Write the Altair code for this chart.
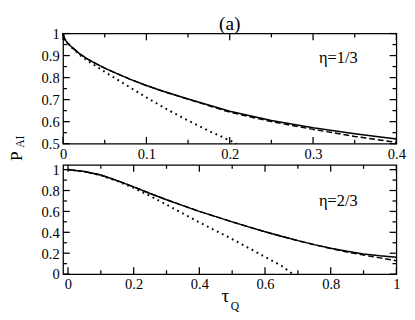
import altair as alt
import pandas as pd

# ---------- data ----------
# top panel, eta = 1/3
top_solid_t = [0, 0.002, 0.005, 0.01, 0.02, 0.03, 0.04, 0.05, 0.06, 0.08, 0.1, 0.12, 0.15, 0.2, 0.25, 0.3, 0.35, 0.4]
top_solid_p = [1.0, 0.975, 0.958, 0.94, 0.908, 0.883, 0.862, 0.843, 0.826, 0.793, 0.764, 0.738, 0.703, 0.647, 0.605, 0.572, 0.545, 0.521]
top_dash_t = [0, 0.002, 0.005, 0.01, 0.02, 0.03, 0.04, 0.05, 0.06, 0.08, 0.1, 0.12, 0.15, 0.2, 0.25, 0.3, 0.35, 0.4]
top_dash_p = [1.0, 0.975, 0.958, 0.94, 0.908, 0.883, 0.862, 0.843, 0.826, 0.793, 0.764, 0.738, 0.702, 0.643, 0.600, 0.565, 0.533, 0.506]
top_dot_t = [0, 0.002, 0.005, 0.01, 0.02, 0.03, 0.05, 0.075, 0.1, 0.125, 0.15, 0.175, 0.2, 0.208]
top_dot_p = [1.0, 0.975, 0.958, 0.938, 0.903, 0.875, 0.826, 0.768, 0.71, 0.655, 0.605, 0.558, 0.515, 0.5]

# bottom panel, eta = 2/3
bot_solid_t = [0, 0.05, 0.1, 0.15, 0.2, 0.25, 0.3, 0.35, 0.4, 0.45, 0.5, 0.55, 0.6, 0.65, 0.7, 0.75, 0.8, 0.85, 0.9, 0.95, 1.0]
bot_solid_p = [1.0, 0.982, 0.948, 0.895, 0.835, 0.772, 0.712, 0.656, 0.6, 0.55, 0.5, 0.452, 0.406, 0.362, 0.32, 0.282, 0.248, 0.218, 0.193, 0.175, 0.162]
bot_dash_t = [0, 0.05, 0.1, 0.15, 0.2, 0.25, 0.3, 0.35, 0.4, 0.45, 0.5, 0.55, 0.6, 0.65, 0.7, 0.75, 0.8, 0.85, 0.9, 0.95, 1.0]
bot_dash_p = [1.0, 0.982, 0.948, 0.895, 0.835, 0.772, 0.712, 0.656, 0.6, 0.55, 0.5, 0.452, 0.406, 0.362, 0.32, 0.281, 0.245, 0.212, 0.182, 0.155, 0.128]
bot_dot_t = [0, 0.05, 0.1, 0.15, 0.2, 0.25, 0.3, 0.35, 0.4, 0.45, 0.5, 0.55, 0.6, 0.65, 0.685]
bot_dot_p = [1.0, 0.982, 0.946, 0.89, 0.825, 0.748, 0.665, 0.58, 0.495, 0.415, 0.335, 0.25, 0.165, 0.08, 0.0]

# tick values
top_x_major = [0, 0.1, 0.2, 0.3, 0.4]
top_x_minor = [0.05, 0.15, 0.25, 0.35]
top_y_major = [0.5, 0.6, 0.7, 0.8, 0.9, 1.0]
top_y_minor = [0.55, 0.65, 0.75, 0.85, 0.95]
bot_x_major = [0, 0.2, 0.4, 0.6, 0.8, 1.0]
bot_x_minor = [0.1, 0.3, 0.5, 0.7, 0.9]
bot_y_major = [0, 0.2, 0.4, 0.6, 0.8, 1.0]
bot_y_minor = [0.1, 0.3, 0.5, 0.7, 0.9]

FONT = "Liberation Serif"
W = 345
H1 = 114
H2 = 113
MAJ = 7
MIN = 4
TICK_W = 1.3


def df(t, p):
    return pd.DataFrame({"t": t, "p": p})


def label_axis(orient, values, pad):
    return alt.Axis(orient=orient, values=values, ticks=False, domain=False,
                    grid=False, title=None, labelFont=FONT, labelFontSize=15,
                    labelColor="black", labelPadding=pad, format="~g",
                    labelFlush=False, labelOverlap=False)


def tick_layer(xmaj, xmin, ymaj, ymin, xdom, ydom, h, xs, ys):
    # every tick is a two-point line segment; length in data units of the perpendicular scale
    ky = (ydom[1] - ydom[0]) / h
    kx = (xdom[1] - xdom[0]) / W
    rows = []
    n = 0
    for vals, ln in ((xmaj, MAJ), (xmin, MIN)):
        for v in vals:
            for a, b in ((ydom[0], ydom[0] + ln * ky), (ydom[1] - ln * ky, ydom[1])):
                rows.append({"id": n, "k": 0, "x": v, "y": a})
                rows.append({"id": n, "k": 1, "x": v, "y": b})
                n += 1
    for vals, ln in ((ymaj, MAJ), (ymin, MIN)):
        for v in vals:
            for a, b in ((xdom[0], xdom[0] + ln * kx), (xdom[1] - ln * kx, xdom[1])):
                rows.append({"id": n, "k": 0, "x": a, "y": v})
                rows.append({"id": n, "k": 1, "x": b, "y": v})
                n += 1
    return alt.Chart(pd.DataFrame(rows)).mark_line(color="black", strokeWidth=TICK_W).encode(
        x=alt.X("x:Q", scale=xs, axis=None),
        y=alt.Y("y:Q", scale=ys, axis=None),
        detail="id:N",
        order="k:Q",
    )


def panel(solid, dash, dot, xdom, ydom, xmaj, xmin, ymaj, ymin, h, texts):
    xs = alt.Scale(domain=xdom, nice=False, zero=False)
    ys = alt.Scale(domain=ydom, nice=False, zero=False)

    l1 = alt.Chart(solid).mark_line(color="black", strokeWidth=1.5).encode(
        x=alt.X("t:Q", scale=xs, axis=label_axis("bottom", xmaj, 3)),
        y=alt.Y("p:Q", scale=ys, axis=label_axis("left", ymaj, 4)),
    )
    l2 = alt.Chart(dash).mark_line(color="black", strokeWidth=1.5, strokeDash=[6, 3]).encode(
        x=alt.X("t:Q", scale=xs, axis=None),
        y=alt.Y("p:Q", scale=ys, axis=None),
    )
    l3 = alt.Chart(dot).mark_line(color="black", strokeWidth=2, strokeDash=[1.8, 4]).encode(
        x=alt.X("t:Q", scale=xs, axis=None),
        y=alt.Y("p:Q", scale=ys, axis=None),
    )
    ticks = tick_layer(xmaj, xmin, ymaj, ymin, xdom, ydom, h, xs, ys)
    layers = [l1, l2, l3, ticks] + texts
    return alt.layer(*layers).resolve_axis(x="independent", y="independent").properties(width=W, height=h)


def txt(s, x, y, size, angle=0):
    kw = dict(text=s, font=FONT, fontSize=size, color="black", align="center", baseline="middle")
    if angle:
        kw["angle"] = angle
    return alt.Chart(pd.DataFrame({"a": [0]})).mark_text(**kw).encode(x=alt.value(x), y=alt.value(y))


top_texts = [
    txt("(a)", W / 2, -10, 20),
    txt("η=1/3", 285, 26, 17),
    txt("P", -47, 127, 18, angle=270),
    txt("AI", -44, 112, 12, angle=270),
]
bot_texts = [
    txt("η=2/3", 285, 37, 17),
    txt("τ", 168, 136, 20),
    txt("Q", 178, 146, 12),
]

top = panel(df(top_solid_t, top_solid_p), df(top_dash_t, top_dash_p), df(top_dot_t, top_dot_p),
            [0, 0.4], [0.5, 1.0], top_x_major, top_x_minor, top_y_major, top_y_minor, H1, top_texts)
bot = panel(df(bot_solid_t, bot_solid_p), df(bot_dash_t, bot_dash_p), df(bot_dot_t, bot_dot_p),
            [-0.015, 1.0], [0, 1.045], bot_x_major, bot_x_minor, bot_y_major, bot_y_minor, H2, bot_texts)

chart = alt.vconcat(top, bot, spacing=22, bounds="flush").properties(
    padding=0, background="white"
).configure_view(stroke="black", strokeWidth=1.3)

chart.save("out.html", embed_options={"renderer": "svg", "actions": False})
